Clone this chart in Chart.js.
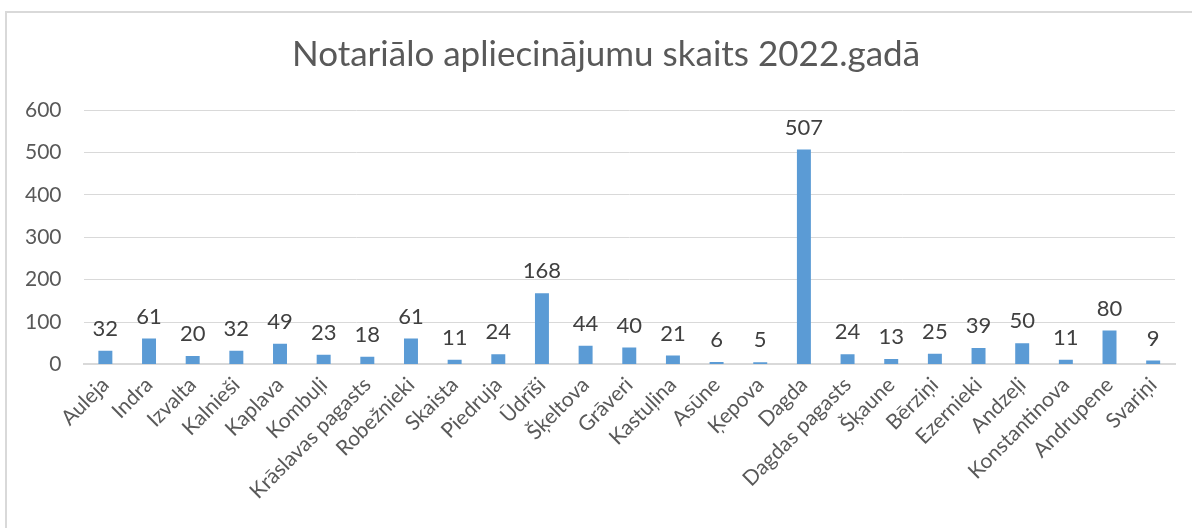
<!DOCTYPE html>
<html>
<head>
<meta charset="utf-8">
<script src="https://cdn.jsdelivr.net/npm/chart.js@4"></script>
<style>
    body { margin: 0; overflow: hidden; background: #fff; }
    .frame {
        position: absolute; left: 5px; top: 11px; width: 1400px; height: 700px;
        border-left: 2px solid #d9d9d9; border-top: 2px solid #d9d9d9;
    }
    #chart { position: absolute; left: 0; top: 0; }
</style>
</head>
<body>
<div class="frame"></div>
<canvas id="chart" width="1192" height="528"></canvas>
<script>
// Chart data
const titleText = 'Notariālo apliecinājumu skaits 2022.gadā';
const places = ['Auleja', 'Indra', 'Izvalta', 'Kalnieši', 'Kaplava', 'Kombuļi', 'Krāslavas pagasts',
    'Robežnieki', 'Skaista', 'Piedruja', 'Ūdrīši', 'Šķeltova', 'Grāveri', 'Kastuļina', 'Asūne',
    'Ķepova', 'Dagda', 'Dagdas pagasts', 'Šķaune', 'Bērziņi', 'Ezernieki', 'Andzeļi',
    'Konstantinova', 'Andrupene', 'Svariņi'];
const counts = [32, 61, 20, 32, 49, 23, 18, 61, 11, 24, 168, 44, 40, 21, 6, 5, 507, 24, 13, 25, 39, 50, 11, 80, 9];
const yTicks = [0, 100, 200, 300, 400, 500, 600];

const textColor = '#595959';
const fontFamily = 'Lato, "Open Sans", sans-serif';

// Title is drawn by hand so it can sit a little right of the canvas centre
const chartTitle = {
    id: 'chartTitle',
    afterDraw(chart) {
        const ctx = chart.ctx;
        ctx.save();
        ctx.font = '35px ' + fontFamily;
        ctx.fillStyle = textColor;
        ctx.textAlign = 'center';
        ctx.textBaseline = 'middle';
        ctx.fillText(titleText, 606, 55);
        ctx.restore();
    }
};

// Draw the value above each bar
const valueLabels = {
    id: 'valueLabels',
    afterDatasetsDraw(chart) {
        const ctx = chart.ctx;
        const meta = chart.getDatasetMeta(0);
        ctx.save();
        ctx.font = '22px ' + fontFamily;
        ctx.fillStyle = '#404040';
        ctx.textAlign = 'center';
        ctx.textBaseline = 'bottom';
        meta.data.forEach((bar, i) => {
            ctx.fillText(counts[i], bar.x, bar.y - 11);
        });
        ctx.restore();
    }
};

const ctx = document.getElementById('chart').getContext('2d');
new Chart(ctx, {
    type: 'bar',
    data: {
        labels: places,
        datasets: [{
            data: counts,
            backgroundColor: '#5b9bd5',
            categoryPercentage: 1,
            barPercentage: 0.32
        }]
    },
    options: {
        responsive: false,
        animation: false,
        layout: { padding: { left: 3, right: 17, top: 110, bottom: 16 } },
        plugins: {
            legend: { display: false },
            tooltip: { enabled: false },
            title: { display: false }
        },
        scales: {
            x: {
                grid: { display: false, drawTicks: false },
                border: { color: '#d9d9d9', width: 2 },
                ticks: {
                    color: textColor,
                    font: { size: 21, family: fontFamily },
                    minRotation: 45,
                    maxRotation: 45,
                    autoSkip: false,
                    padding: 8
                }
            },
            y: {
                min: 0,
                max: 600,
                afterBuildTicks: axis => { axis.ticks = yTicks.map(v => ({ value: v })); },
                grid: { color: '#d9d9d9', lineWidth: 1, drawTicks: false },
                border: { display: false },
                ticks: {
                    color: textColor,
                    font: { size: 21, family: fontFamily },
                    padding: 22
                }
            }
        }
    },
    plugins: [valueLabels, chartTitle]
});
</script>
</body>
</html>
